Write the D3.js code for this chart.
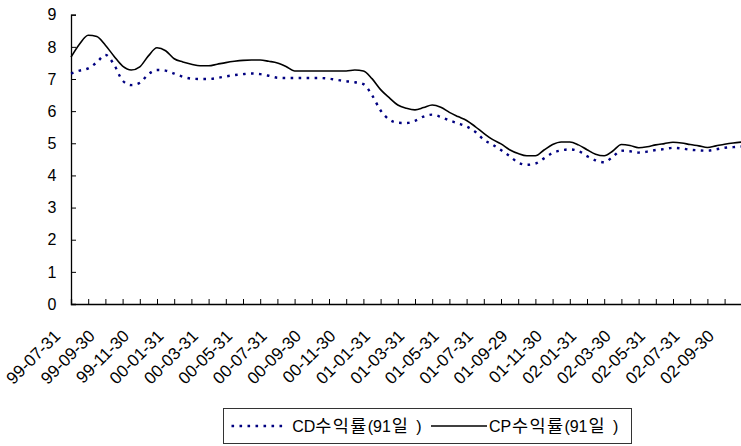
<!DOCTYPE html>
<html>
<head>
<meta charset="utf-8">
<script src="https://cdn.jsdelivr.net/npm/d3@7"></script>
<style>
  html, body { margin: 0; padding: 0; background: #fff; }
  svg { display: block; }
  text { font-family: "Liberation Sans", Arial, "Noto Sans CJK KR", sans-serif; fill: #000; }
  .ko { font-family: "Noto Sans CJK KR", sans-serif; }
</style>
</head>
<body>
<svg id="chart" width="741" height="446"></svg>
<script>
// Month-end labels shown under every second monthly tick
const tickLabels = [
  "99-07-31", "99-09-30", "99-11-30", "00-01-31", "00-03-31", "00-05-31",
  "00-07-31", "00-09-30", "00-11-30", "01-01-31", "01-03-31", "01-05-31",
  "01-07-31", "01-09-29", "01-11-30", "02-01-31", "02-03-30", "02-05-31",
  "02-07-31", "02-09-30"
];

// Observation positions, in months after 1999-07-31 (half-month steps)
const obsMonth = d3.range(0, 39.5, 0.5);

// CD yield (91-day), %
const cdYield = [
  7.17, 7.26, 7.33, 7.52, 7.75, 7.45, 6.95, 6.81, 6.88, 7.15,
  7.28, 7.26, 7.17, 7.07, 7.01, 7.00, 7.00, 7.03, 7.08, 7.12,
  7.15, 7.17, 7.15, 7.10, 7.04, 7.03, 7.03, 7.03, 7.03, 7.03,
  7.01, 6.97, 6.93, 6.90, 6.84, 6.50, 6.02, 5.74, 5.64, 5.63,
  5.70, 5.83, 5.89, 5.82, 5.71, 5.62, 5.52, 5.36, 5.11, 4.96,
  4.79, 4.60, 4.40, 4.33, 4.37, 4.53, 4.70, 4.78, 4.81, 4.76,
  4.60, 4.47, 4.41, 4.58, 4.77, 4.75, 4.71, 4.74, 4.79, 4.82,
  4.86, 4.84, 4.80, 4.78, 4.77, 4.81, 4.86, 4.88, 4.90
];

// CP yield (91-day), %
const cpYield = [
  7.68, 8.09, 8.36, 8.32, 8.05, 7.71, 7.40, 7.28, 7.38, 7.72,
  7.97, 7.88, 7.63, 7.53, 7.46, 7.41, 7.41, 7.46, 7.51, 7.55,
  7.58, 7.59, 7.59, 7.55, 7.50, 7.39, 7.25, 7.25, 7.25, 7.25,
  7.25, 7.25, 7.25, 7.28, 7.25, 7.01, 6.67, 6.42, 6.19, 6.09,
  6.04, 6.11, 6.19, 6.12, 5.96, 5.83, 5.71, 5.52, 5.31, 5.12,
  4.98, 4.80, 4.68, 4.61, 4.61, 4.79, 4.96, 5.04, 5.04, 4.95,
  4.80, 4.66, 4.61, 4.76, 4.96, 4.93, 4.86, 4.89, 4.95, 4.99,
  5.03, 5.01, 4.96, 4.92, 4.87, 4.92, 4.97, 5.01, 5.04
];

// Legend names, split into Latin and Hangul runs so each gets its own font
const seriesCodes = ["CD", "CP"];
const seriesSuffix = ["수익률", "(91", "일", ")"];
const yTicks = [0, 1, 2, 3, 4, 5, 6, 7, 8, 9];

const svg = d3.select("#chart");

const x = d3.scaleLinear().domain([0, 39]).range([71, 741.8]);
const y = d3.scaleLinear().domain([0, 9]).range([304, 14.7]);

// Y axis: ticks point inward (to the right)
const yAxis = d3.axisRight(y).tickValues(yTicks).tickSize(5).tickFormat("");
const yG = svg.append("g").attr("transform", `translate(${x(0)},0)`).call(yAxis);
yG.select(".domain").attr("stroke", "#000").attr("stroke-width", 1.3);
yG.selectAll(".tick line").attr("stroke", "#000").attr("stroke-width", 1);

svg.append("g").selectAll("text")
  .data(yTicks)
  .join("text")
  .attr("x", 56.5)
  .attr("y", d => y(d))
  .attr("dy", "0.36em")
  .attr("text-anchor", "end")
  .attr("font-size", 16)
  .text(d => d);

// X axis: monthly ticks pointing up, labels on every second tick
const xAxis = d3.axisTop(x).tickValues(d3.range(0, 40)).tickSize(5).tickFormat("");
const xG = svg.append("g").attr("transform", `translate(0,${y(0)})`).call(xAxis);
xG.select(".domain").attr("stroke", "#000").attr("stroke-width", 1.3);
xG.selectAll(".tick line").attr("stroke", "#000").attr("stroke-width", 1);

svg.append("g").selectAll("text")
  .data(tickLabels)
  .join("text")
  .attr("text-anchor", "end")
  .attr("font-size", 17)
  .attr("transform", (d, i) => `translate(${x(i * 2) - 9.5},${y(0) + 33}) rotate(-45)`)
  .text(d => d);

// Series lines
const line = vals => d3.line()
  .x((d, i) => x(obsMonth[i]))
  .y(d => y(d))
  .curve(d3.curveMonotoneX)(vals);

svg.append("path")
  .attr("d", line(cpYield))
  .attr("fill", "none")
  .attr("stroke", "#000")
  .attr("stroke-width", 1.6);

svg.append("path")
  .attr("d", line(cdYield))
  .attr("fill", "none")
  .attr("stroke", "#000080")
  .attr("stroke-width", 2.4)
  .attr("stroke-dasharray", "2.6,5.4");

// Legend
const lg = svg.append("g");
lg.append("rect")
  .attr("x", 223.5).attr("y", 408.5)
  .attr("width", 408).attr("height", 35)
  .attr("fill", "#fff").attr("stroke", "#333").attr("stroke-width", 1);

const ly = 426;

function legendLabel(x0, code) {
  const t = lg.append("text").attr("x", x0).attr("y", ly).attr("dy", "0.36em").attr("font-size", 16);
  t.append("tspan").text(code);
  t.append("tspan").attr("class", "ko").attr("x", x0 + 23).attr("font-size", 17.5)
    .attr("letter-spacing", 1.4).text(seriesSuffix[0]);
  t.append("tspan").attr("x", x0 + 75.4).text(seriesSuffix[1]);
  t.append("tspan").attr("class", "ko").attr("x", x0 + 99.4).attr("font-size", 17.5).text(seriesSuffix[2]);
  t.append("tspan").attr("x", x0 + 124).text(seriesSuffix[3]);
}

lg.append("line")
  .attr("x1", 231.5).attr("x2", 284).attr("y1", ly).attr("y2", ly)
  .attr("stroke", "#000080").attr("stroke-width", 2.4)
  .attr("stroke-dasharray", "2.6,5.4");
legendLabel(292.3, seriesCodes[0]);

lg.append("line")
  .attr("x1", 431).attr("x2", 487).attr("y1", ly).attr("y2", ly)
  .attr("stroke", "#000").attr("stroke-width", 1.6);
legendLabel(489, seriesCodes[1]);
</script>
</body>
</html>
